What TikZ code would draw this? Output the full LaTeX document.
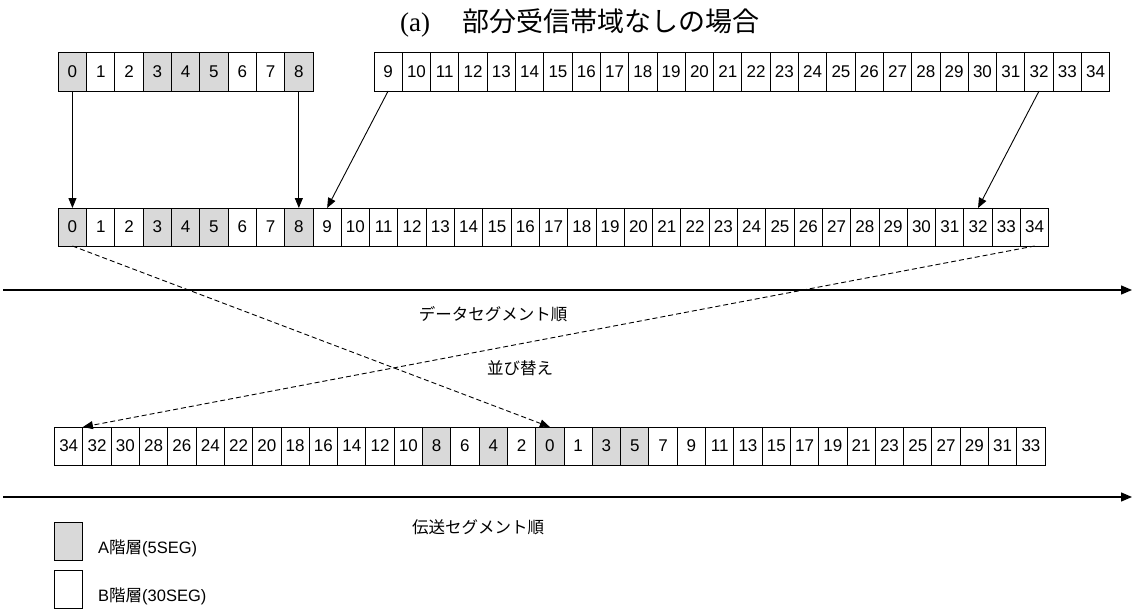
\documentclass[tikz,border=0pt]{standalone}
\usepackage{fontspec}
\setmainfont{Liberation Sans}
\newfontfamily\jp{Noto Sans CJK JP}
\newfontfamily\serifl{Liberation Serif}
\usetikzlibrary{arrows.meta}
\definecolor{shadegray}{RGB}{217,217,217}
\begin{document}
\begin{tikzpicture}[x=1pt,y=-1pt,
  cell/.style={draw, line width=1pt, minimum width=28.3pt, minimum height=38pt,
    inner sep=0pt, outer sep=0pt, font=\fontsize{17}{17}\selectfont},
  acell/.style={cell, fill=shadegray},
  conn/.style={line width=0.9pt, -{Triangle[length=10pt,width=8pt]}},
  dconn/.style={conn, dash pattern=on 5pt off 3pt},
  axis/.style={line width=1.3pt, -{Triangle[length=11pt,width=9pt]}},
  jlabel/.style={font=\jp\fontsize{16.5}{16.5}\selectfont, inner sep=0pt},
  legtext/.style={font=\fontsize{16.5}{16.5}\selectfont, inner sep=0pt, anchor=west}]
\useasboundingbox (0,0) rectangle (1132,610);

% title
\node[anchor=west, inner sep=0pt] (title) at (400,23)
  {\fontsize{27}{27}\selectfont\serifl (a)\hspace{32pt}\jp 部分受信帯域なしの場合};

% top row, left group
\foreach \i/\s in {0/acell,1/cell,2/cell,3/acell,4/acell,5/acell,6/cell,7/cell,8/acell}
  \node[\s] (t\i) at ({58.3+(\i+0.5)*28.3},72) {\i};
% top row, right group
\foreach \i in {9,...,34}
  \node[cell] (t\i) at ({374+(\i-9+0.5)*28.3},72) {\i};

% middle row
\foreach \i/\s in {0/acell,1/cell,2/cell,3/acell,4/acell,5/acell,6/cell,7/cell,8/acell}
  \node[\s] (m\i) at ({58.3+(\i+0.5)*28.3},227) {\i};
\foreach \i in {9,...,34}
  \node[cell] (m\i) at ({58.3+(\i+0.5)*28.3},227) {\i};

% bottom row
\foreach \v/\s [count=\k from 0] in {34/cell,32/cell,30/cell,28/cell,26/cell,24/cell,22/cell,
   20/cell,18/cell,16/cell,14/cell,12/cell,10/cell,8/acell,6/cell,4/acell,2/cell,0/acell,
   1/cell,3/acell,5/acell,7/cell,9/cell,11/cell,13/cell,15/cell,17/cell,19/cell,21/cell,
   23/cell,25/cell,27/cell,29/cell,31/cell,33/cell}
  \node[\s] (b\v) at ({54.6+(\k+0.5)*28.3},446) {\v};

% mapping arrows
\draw[conn] (t0.south) -- (m0.north);
\draw[conn] (t8.south) -- (m8.north);
\draw[conn] (t9.south) -- (m9.north);
\draw[conn] (t32.south) -- (m32.north);

% reordering (dashed)
\draw[dconn] (m0.south) -- (b0.north);
\draw[dconn] (m34.south) -- (b34.north east);

% axes
\coordinate (a1s) at (3,290);
\coordinate (a1e) at (1132,290);
\coordinate (a2s) at (3,497);
\coordinate (a2e) at (1132,497);
\draw[axis] (a1s) -- (a1e);
\draw[axis] (a2s) -- (a2e);

% labels
\node[jlabel] (lbl1) at (493,314) {データセグメント順};
\node[jlabel] (lbl2) at (520,368) {並び替え};
\node[jlabel] (lbl3) at (478,527) {伝送セグメント順};

% legend
\node[draw, line width=1pt, fill=shadegray, minimum width=28.3pt, minimum height=38pt,
  inner sep=0pt, outer sep=0pt] (legA) at (68.3,541) {};
\node[draw, line width=1pt, fill=white, minimum width=28.3pt, minimum height=38pt,
  inner sep=0pt, outer sep=0pt] (legB) at (68.3,589) {};
\node[legtext] (legAt) at (98,548) {A{\jp 階層}(5SEG)};
\node[legtext] (legBt) at (98,596) {B{\jp 階層}(30SEG)};
\end{tikzpicture}
\end{document}
